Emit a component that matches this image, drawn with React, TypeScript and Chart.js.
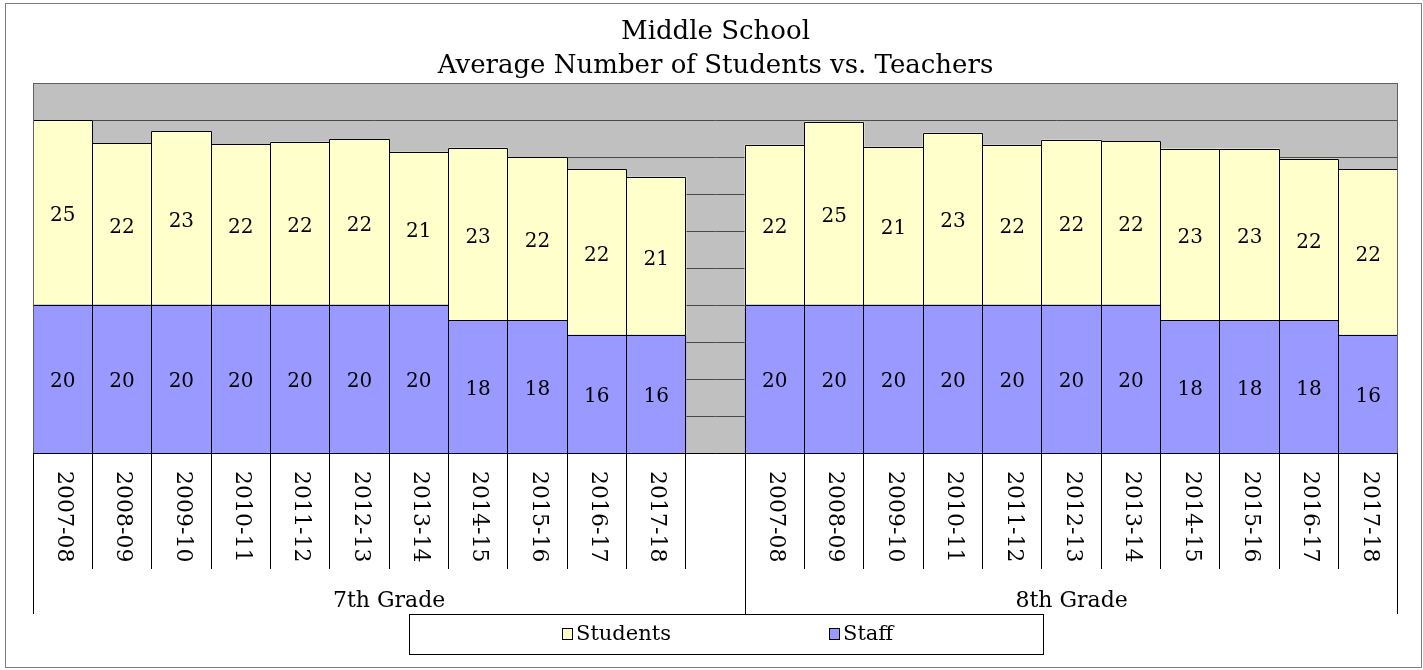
import React, { useEffect, useRef } from 'react';
import { Chart, registerables } from 'chart.js';

Chart.register(...registerables);

const titleLines = ['Middle School', 'Average Number of Students vs. Teachers'];
const seasons = ['2007-08', '2008-09', '2009-10', '2010-11', '2011-12', '2012-13', '2013-14', '2014-15', '2015-16', '2016-17', '2017-18'];
const groupNames = ['7th Grade', '8th Grade'];
const students7 = [24.93, 21.8, 23.42, 21.66, 22.0, 22.34, 20.64, 23.27, 22.0, 22.38, 21.35];
const staff7 = [20, 20, 20, 20, 20, 20, 20, 17.9, 17.9, 15.9, 15.9];
const students8 = [21.58, 24.69, 21.31, 23.2, 21.58, 22.25, 22.1, 23.18, 23.18, 21.79, 22.38];
const staff8 = [20, 20, 20, 20, 20, 20, 20, 17.9, 17.9, 17.9, 15.9];
const seriesNames = ['Students', 'Staff'];
const yMin = 0;
const yMax = 50;
const yStep = 5;

const labels = [...seasons, '', ...seasons];
const studentsData: (number | null)[] = [...students7, null, ...students8];
const staffData: (number | null)[] = [...staff7, null, ...staff8];

const YELLOW = '#FFFFCC';
const BLUE = '#9999FF';
const GRAY = '#C0C0C0';
const SERIF = '"DejaVu Serif", serif';

const px = (v: number) => Math.floor(v) + 0.5;

const framePlugin = {
  id: 'frame',
  beforeDraw(chart: any) {
    const { ctx, chartArea: a, width, height } = chart;
    ctx.save();
    ctx.fillStyle = '#ffffff';
    ctx.fillRect(0, 0, width, height);
    ctx.strokeStyle = '#808080';
    ctx.lineWidth = 1;
    ctx.strokeRect(5.5, 3.5, width - 7, height - 6);
    ctx.fillStyle = GRAY;
    ctx.fillRect(a.left, a.top, a.right - a.left, a.bottom - a.top);
    ctx.restore();
  },
  afterDatasetsDraw(chart: any) {
    const { ctx, chartArea: a } = chart;
    ctx.save();
    ctx.strokeStyle = '#000';
    ctx.lineWidth = 1;
    chart.data.datasets.forEach((ds: any, di: number) => {
      const meta = chart.getDatasetMeta(di);
      meta.data.forEach((el: any, j: number) => {
        if (ds.data[j] == null) return;
        const p = el.getProps(['x', 'y', 'base', 'width'], true);
        const x0 = Math.max(px(p.x - p.width / 2), a.left + 0.5);
        const x1 = Math.min(px(p.x + p.width / 2), Math.round(a.right) - 0.5);
        const yt = px(p.y);
        const yb = Math.round(p.base);
        ctx.beginPath();
        ctx.moveTo(x0, yb);
        ctx.lineTo(x0, yt);
        ctx.lineTo(x1, yt);
        ctx.lineTo(x1, yb);
        ctx.stroke();
      });
    });
    ctx.restore();
  },
  afterDraw(chart: any) {
    const { ctx, chartArea: a } = chart;
    const xs = chart.scales.x;
    ctx.save();
    // plot border
    ctx.strokeStyle = '#606060';
    ctx.lineWidth = 1;
    ctx.beginPath();
    ctx.moveTo(a.left + 0.5, a.bottom);
    ctx.lineTo(a.left + 0.5, a.top + 0.5);
    ctx.lineTo(a.right - 0.5, a.top + 0.5);
    ctx.lineTo(a.right - 0.5, a.bottom);
    ctx.stroke();
    // axis line
    ctx.strokeStyle = '#000';
    ctx.beginPath();
    ctx.moveTo(a.left, a.bottom + 0.5);
    ctx.lineTo(a.right, a.bottom + 0.5);
    ctx.stroke();

    // data labels
    ctx.fillStyle = '#000';
    ctx.font = `20px ${SERIF}`;
    ctx.textAlign = 'center';
    ctx.textBaseline = 'middle';
    chart.data.datasets.forEach((ds: any, di: number) => {
      const meta = chart.getDatasetMeta(di);
      meta.data.forEach((el: any, j: number) => {
        const v = ds.data[j];
        if (v == null) return;
        const p = el.getProps(['x', 'y', 'base'], true);
        ctx.fillText(String(Math.round(v)), p.x, (p.y + p.base) / 2 + 3);
      });
    });

    // category separators
    const n = labels.length;
    const groupBounds = [0, seasons.length + 1, n];
    ctx.strokeStyle = '#000';
    for (let b = 0; b <= n; b++) {
      const raw = xs.getPixelForValue(b - 0.5);
      const x = b === n ? Math.round(raw) - 0.5 : px(raw);
      const long = groupBounds.includes(b);
      ctx.beginPath();
      ctx.moveTo(x, a.bottom);
      ctx.lineTo(x, a.bottom + (long ? 161 : 116));
      ctx.stroke();
    }

    // category labels (rotated clockwise)
    ctx.font = `22px ${SERIF}`;
    ctx.textAlign = 'left';
    ctx.textBaseline = 'middle';
    labels.forEach((lab, j) => {
      if (!lab) return;
      const cx = xs.getPixelForValue(j);
      ctx.save();
      ctx.translate(cx + 1, a.bottom + 18);
      ctx.rotate(Math.PI / 2);
      ctx.fillText(lab, 0, 0);
      ctx.restore();
    });

    // group labels
    ctx.font = `22px ${SERIF}`;
    ctx.textAlign = 'center';
    groupNames.forEach((g, gi) => {
      const x0 = xs.getPixelForValue(groupBounds[gi] - 0.5);
      const x1 = xs.getPixelForValue(groupBounds[gi + 1] - 0.5);
      ctx.fillText(g, (x0 + x1) / 2, a.bottom + 148);
    });

    // legend
    ctx.strokeStyle = '#000';
    ctx.strokeRect(409.5, 614.5, 634, 40);
    const items = [
      { name: seriesNames[0], color: YELLOW, x: 562 },
      { name: seriesNames[1], color: BLUE, x: 829 },
    ];
    ctx.font = `21px ${SERIF}`;
    ctx.textAlign = 'left';
    items.forEach((it) => {
      ctx.fillStyle = it.color;
      ctx.fillRect(it.x + 0.5, 628.5, 10, 11);
      ctx.strokeStyle = '#000';
      ctx.strokeRect(it.x + 0.5, 628.5, 10, 11);
      ctx.fillStyle = '#000';
      ctx.fillText(it.name, it.x + 14, 635);
    });
    ctx.restore();
  },
};

export default function App() {
  const ref = useRef<HTMLCanvasElement | null>(null);
  useEffect(() => {
    if (!ref.current) return;
    const chart = new Chart(ref.current, {
      type: 'bar',
      data: {
        labels,
        datasets: [
          {
            label: seriesNames[1],
            data: staffData,
            backgroundColor: BLUE,
            borderWidth: 0,
            inflateAmount: 0.5,
          },
          {
            label: seriesNames[0],
            data: studentsData,
            backgroundColor: YELLOW,
            borderWidth: 0,
            inflateAmount: 0.5,
          },
        ],
      },
      options: {
        responsive: false,
        animation: false,
        events: [],
        datasets: { bar: { barPercentage: 1, categoryPercentage: 1 } },
        layout: { padding: { left: 33, right: 25, top: 15, bottom: 55 } },
        plugins: {
          legend: { display: false },
          tooltip: { enabled: false },
          title: {
            display: true,
            text: titleLines,
            color: '#000',
            font: { family: SERIF, size: 26, weight: 'normal', lineHeight: '34px' as any },
            padding: { top: 0, bottom: 0 },
          },
        },
        scales: {
          x: {
            stacked: true,
            grid: { display: false },
            border: { display: false },
            ticks: { display: false },
            afterFit: (s: any) => {
              s.height = 162;
            },
          },
          y: {
            stacked: true,
            min: yMin,
            max: yMax,
            ticks: { display: false, stepSize: yStep },
            grid: { color: '#4a4a4a', lineWidth: 1, drawTicks: false },
            border: { display: false },
          },
        },
      },
      plugins: [framePlugin],
    });
    return () => chart.destroy();
  }, []);
  return (
    <div style={{ position: 'absolute', left: 0, top: 0, width: 1423, height: 670 }}>
      <canvas ref={ref} width={1423} height={670} style={{ display: 'block' }} />
    </div>
  );
}
